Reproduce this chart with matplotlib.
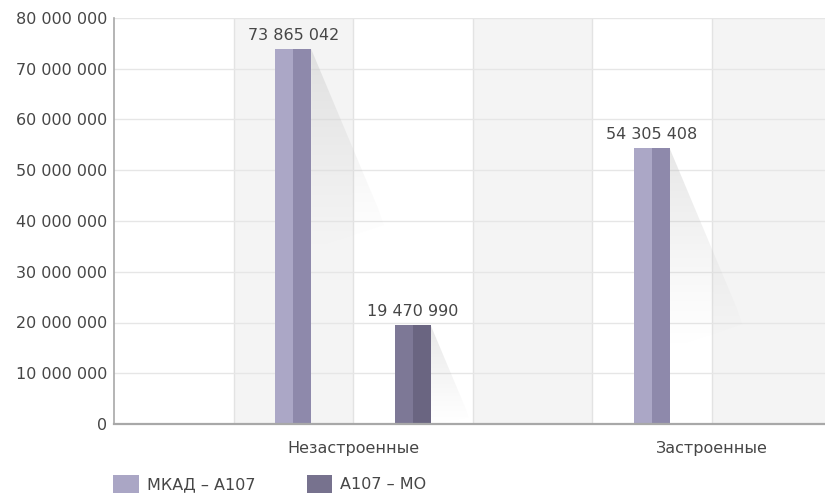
import numpy as np
import matplotlib
matplotlib.use("Agg")
import matplotlib.pyplot as plt
from matplotlib.patches import Polygon, Patch
from matplotlib.ticker import FuncFormatter, MultipleLocator

# Data
categories = ["Незастроенные", "Застроенные"]
series_names = ["МКАД – А107", "А107 – МО"]
mkad_a107 = [73865042, 54305408]
a107_mo = [19470990, 0]
values = [mkad_a107, a107_mo]

# Style
light_cols = ["#aba7c6", "#7d7896"]
dark_cols = ["#8e89ab", "#6a6581"]
legend_cols = ["#aaa6c5", "#77728e"]
text_col = "#464646"

plt.rcParams["font.family"] = ["DejaVu Sans"]

fig = plt.figure(figsize=(8.25, 4.99), dpi=100)
ax = fig.add_axes([114 / 825, 1 - 424 / 499, 711 / 825, (424 - 18) / 499])

group_centers = np.array([2.0, 5.0])
offsets = [-0.5, 0.5]
bar_w = 0.30
ymax = 80_000_000
xmax = 711 / 119.5

# Alternating column bands and vertical separators
for b in (1, 3, 5):
    ax.axvspan(b, b + 1, color="#f4f4f4", zorder=0, lw=0)
for v in range(1, 6):
    ax.axvline(v, color="#e3e3e3", lw=1.0, zorder=0.5)
for yv in range(10_000_000, ymax + 1, 10_000_000):
    ax.axhline(yv, color="#e6e6e6", lw=1.0, zorder=0.6)

# px per data unit (for shaping the soft shadows)
px_per_x = 119.5
px_per_y = 406 / ymax


def draw_shadow(xr, top):
    if top <= 0:
        return
    L_px = min(160.0, 0.85 * top * px_per_y)
    L = L_px / px_per_y
    dx = 0.42 * L_px / px_per_x
    bottom = max(0.0, top - 1.25 * L)
    poly = Polygon([(xr, top), (xr + dx, top - L), (xr + dx * 1.08, top - 1.1 * L), (xr, bottom)],
                   closed=True, transform=ax.transData, facecolor="none", edgecolor="none")
    ax.add_patch(poly)
    grad = np.linspace(0.0, 1.0, 256)[:, None]
    rgba = np.zeros((256, 2, 4))
    rgba[..., 0:3] = 0.74
    rgba[..., 3] = (0.36 * grad ** 1.2)
    im = ax.imshow(rgba, extent=[xr, xr + dx * 1.1, bottom, top], origin="lower",
                   aspect="auto", zorder=1, interpolation="bilinear")
    im.set_clip_path(poly)


for si, series in enumerate(values):
    for ci, val in enumerate(series):
        if val <= 0:
            continue
        xc = group_centers[ci] + offsets[si]
        draw_shadow(xc + bar_w / 2, val)
        ax.bar(xc - bar_w / 4, val, width=bar_w / 2, color=light_cols[si], zorder=2, lw=0)
        ax.bar(xc + bar_w / 4, val, width=bar_w / 2, color=dark_cols[si], zorder=2, lw=0)
        ax.text(xc, val + 1_300_000, f"{val:,}".replace(",", " "), ha="center", va="bottom",
                fontsize=11.5, color=text_col, zorder=3)

ax.set_xlim(0, xmax)
ax.set_ylim(0, ymax)
ax.yaxis.set_major_locator(MultipleLocator(10_000_000))
ax.yaxis.set_major_formatter(FuncFormatter(lambda v, p: f"{int(v):,}".replace(",", " ")))
ax.set_xticks(group_centers)
ax.set_xticklabels(categories)
ax.tick_params(axis="y", length=0, pad=5, labelsize=11.5, labelcolor=text_col)
ax.tick_params(axis="x", length=0, pad=12, labelsize=11.5, labelcolor=text_col)

for side in ("top", "right"):
    ax.spines[side].set_visible(False)
ax.spines["left"].set_color("#a8a8a8")
ax.spines["bottom"].set_color("#a8a8a8")
ax.spines["left"].set_linewidth(1.2)
ax.spines["bottom"].set_linewidth(1.6)
ax.spines["left"].set_zorder(4)
ax.spines["bottom"].set_zorder(4)

handles = [Patch(facecolor=c, edgecolor="none") for c in legend_cols]
fig.legend(handles, series_names, loc="lower left", bbox_to_anchor=(107 / 825, 0.0),
           ncol=2, frameon=False, fontsize=11.5, labelcolor=text_col,
           handlelength=1.6, handleheight=1.3, handletextpad=0.5, columnspacing=3.2,
           borderaxespad=0.0)

fig.savefig("out.png", dpi=100, facecolor="white")
